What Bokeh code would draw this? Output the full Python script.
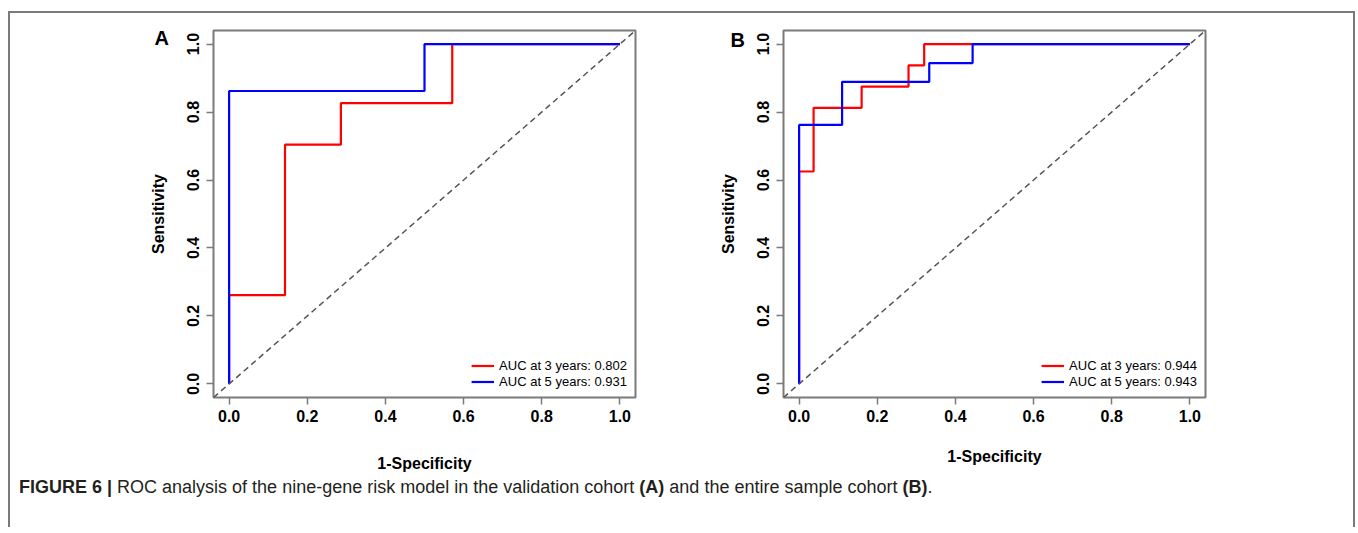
from bokeh.plotting import figure
from bokeh.layouts import row, column
from bokeh.models import (FixedTicker, Legend, LegendItem, Slope, Div,
                          NumeralTickFormatter)
from bokeh.embed import file_html
from bokeh.resources import INLINE

# ---------------- data (ROC step points: 1-Specificity, Sensitivity) -------------
a_fpr_3y = [0.0, 0.0, 0.143, 0.286, 0.571, 1.0]
a_tpr_3y = [0.0, 0.261, 0.704, 0.826, 1.0, 1.0]
a_fpr_5y = [0.0, 0.0, 0.5, 1.0]
a_tpr_5y = [0.0, 0.862, 1.0, 1.0]

b_fpr_3y = [0.0, 0.0, 0.037, 0.16, 0.28, 0.32, 1.0]
b_tpr_3y = [0.0, 0.625, 0.8125, 0.875, 0.9375, 1.0, 1.0]
b_fpr_5y = [0.0, 0.0, 0.11, 0.333, 0.444, 1.0]
b_tpr_5y = [0.0, 0.762, 0.889, 0.944, 1.0, 1.0]

a_legend = ["AUC at 3 years: 0.802", "AUC at 5 years: 0.931"]
b_legend = ["AUC at 3 years: 0.944", "AUC at 5 years: 0.943"]
ticks = [0.0, 0.2, 0.4, 0.6, 0.8, 1.0]
panel_letters = ["A", "B"]
x_title = "1-Specificity"
y_title = "Sensitivity"
caption_html = ("<b>FIGURE 6 |</b> ROC analysis of the nine-gene risk model in the "
                "validation cohort <b>(A)</b> and the entire sample cohort <b>(B)</b>.")

FONT = "Liberation Sans"
GRAY = "#7a7a7a"


def make_panel(fpr3, tpr3, fpr5, tpr5, labels, letter, bl, br, xlab_standoff,
               letter_offset, letter_standoff):
    p = figure(frame_width=422, frame_height=367,
               x_range=(-0.04, 1.04), y_range=(-0.04, 1.04),
               output_backend="svg", toolbar_location=None,
               min_border_left=bl, min_border_right=br,
               min_border_top=17, min_border_bottom=78)
    p.grid.visible = False
    p.outline_line_color = GRAY
    p.outline_line_width = 2
    p.background_fill_color = "white"
    p.border_fill_color = "white"

    # panel letter as the figure title, pulled to the left of the frame
    p.title.text = letter
    p.title.align = "left"
    p.title.vertical_align = "bottom"
    p.title.offset = letter_offset
    p.title.standoff = letter_standoff
    p.title.text_font = FONT
    p.title.text_font_style = "bold"
    p.title.text_font_size = "20px"
    p.title.text_color = "black"

    p.add_layout(Slope(gradient=1, y_intercept=0, line_color="#555555",
                       line_width=1.5, line_dash="6 4"))

    r3 = p.step(fpr3, tpr3, mode="after", line_color="#FF0000", line_width=2.2)
    r5 = p.step(fpr5, tpr5, mode="after", line_color="#0000FF", line_width=2.2)

    for ax in (p.xaxis[0], p.yaxis[0]):
        ax.ticker = FixedTicker(ticks=ticks)
        ax.formatter = NumeralTickFormatter(format="0.0")
        ax.axis_line_color = None
        ax.major_tick_line_color = GRAY
        ax.major_tick_line_width = 1.5
        ax.major_tick_out = 7
        ax.major_tick_in = 0
        ax.minor_tick_line_color = None
        ax.major_label_text_font = FONT
        ax.major_label_text_font_style = "bold"
        ax.major_label_text_font_size = "16px"
        ax.major_label_text_color = "black"
        ax.axis_label_text_font = FONT
        ax.axis_label_text_font_style = "bold"
        ax.axis_label_text_font_size = "16px"
        ax.axis_label_text_color = "black"
    p.xaxis[0].axis_label = x_title
    p.yaxis[0].axis_label = y_title
    p.xaxis[0].major_label_standoff = 5
    p.yaxis[0].major_label_standoff = 7
    p.yaxis[0].major_label_orientation = "vertical"
    p.xaxis[0].axis_label_standoff = xlab_standoff
    p.yaxis[0].axis_label_standoff = 18

    legend = Legend(items=[LegendItem(label=labels[0], renderers=[r3]),
                           LegendItem(label=labels[1], renderers=[r5])],
                    location="bottom_right", border_line_color=None,
                    background_fill_alpha=0, padding=2, margin=8,
                    glyph_width=23, glyph_height=15, label_height=15,
                    spacing=1, label_standoff=5,
                    label_text_font=FONT, label_text_font_size="13px",
                    label_text_color="black")
    p.add_layout(legend)
    return p


pA = make_panel(a_fpr_3y, a_tpr_3y, a_fpr_5y, a_tpr_5y, a_legend,
                panel_letters[0], 203, 43, 30, -59, -36)
pB = make_panel(b_fpr_3y, b_tpr_3y, b_fpr_5y, b_tpr_5y, b_legend,
                panel_letters[1], 105, 148, 23, -53, -40)

cap = Div(text=caption_html, width=1330, height=42,
          styles={"font-family": "Liberation Sans, Arial, sans-serif",
                  "font-size": "18px", "color": "#231F20",
                  "padding-left": "4px", "padding-top": "0px",
                  "position": "relative", "top": "-5px",
                  "white-space": "nowrap"})

layout = column(row(pA, pB, spacing=0), cap, spacing=0, margin=(11, 0, 0, 8),
                styles={"border-top": "2px solid " + GRAY,
                        "border-left": "2px solid " + GRAY,
                        "border-right": "2px solid " + GRAY})

open("out.html", "w").write(file_html(layout, INLINE))
